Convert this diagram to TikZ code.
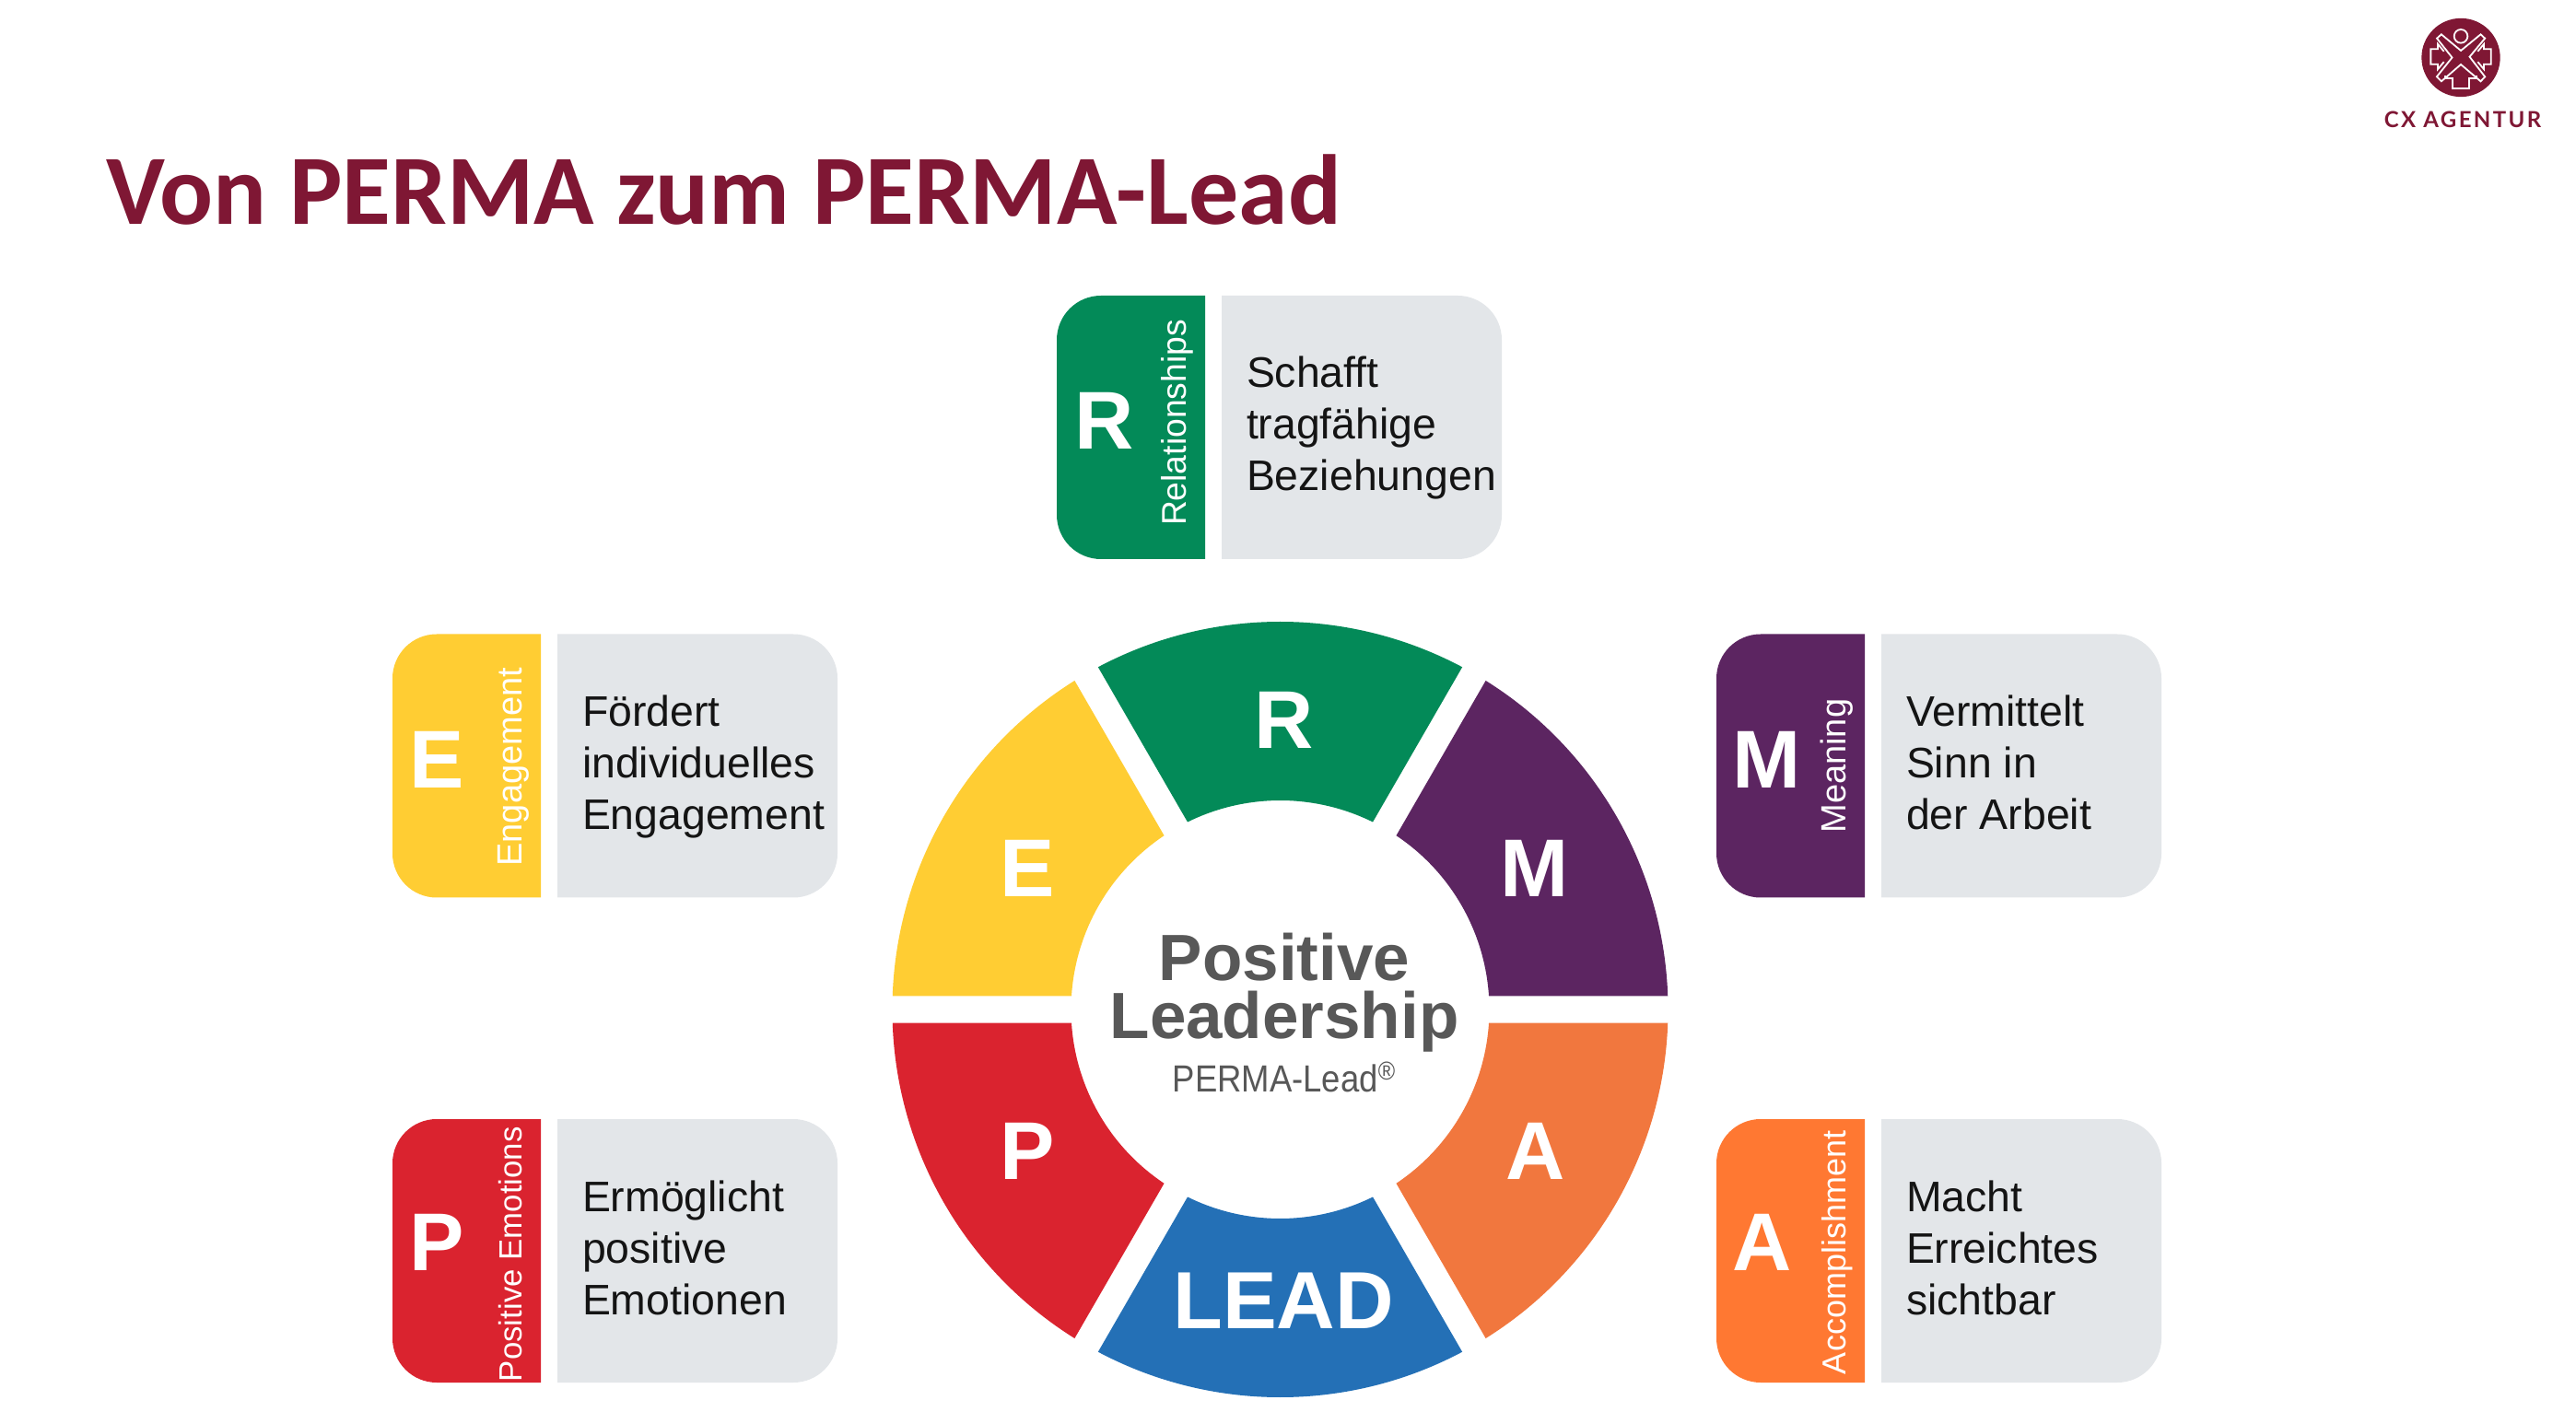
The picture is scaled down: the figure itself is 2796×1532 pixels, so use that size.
\documentclass[tikz,border=0pt]{standalone}
\usepackage{fontspec}
\setmainfont{Liberation Sans}
\newfontfamily\titlefont{Carlito}
\newfontfamily\logofont[LetterSpace=10]{Lato}
\definecolor{cxred}{HTML}{7F1734}
\definecolor{cgreen}{HTML}{038A58}
\definecolor{cred}{HTML}{DA232F}
\definecolor{cyellow}{HTML}{FFCD33}
\definecolor{cpurple}{HTML}{5C2561}
\definecolor{corange}{HTML}{F1773E}
\definecolor{corangecard}{HTML}{FF7832}
\definecolor{cblue}{HTML}{2470B6}
\definecolor{cgrey}{HTML}{E3E6E9}
\definecolor{ctext}{HTML}{141414}
\definecolor{ccentre}{HTML}{585858}
\newcommand{\fs}[1]{\fontsize{#1}{#1}\selectfont}
\tikzset{
  x=1pt,y=1pt,
  txt/.style={inner sep=0pt,outer sep=0pt},
  letter/.style={txt,anchor=base,text=white,font=\fs{89}\bfseries},
  bodytext/.style={txt,anchor=north west,align=left,text=ctext,font=\fontsize{46.4}{56}\selectfont},
  vert/.style={txt,anchor=base west,rotate=90,text=white},
  logoline/.style={draw=white,line width=1.8pt,line join=miter}
}
% #1 name, #2 x, #3 top y, #4 colour, #5 letter, #6 letter x, #7 letter baseline, #8 vertical text, #9 size/start
\newcommand{\permacard}[9]{%
  \begin{scope}[shift={(#2,1532-#3)}]
    \fill[#4] (161,0) -- (48,0) arc[start angle=90,end angle=180,radius=48] -- (0,-238)
      arc[start angle=180,end angle=270,radius=48] -- (161,-286) -- cycle;
    \fill[cgrey] (179,0) -- (435,0) arc[start angle=90,end angle=0,radius=48] -- (483,-238)
      arc[start angle=0,end angle=-90,radius=48] -- (179,-286) -- cycle;
    \node[letter] (#1let) at (#6,-#7) {#5};
    \permavert{#1}{#8}#9
  \end{scope}}
\newcommand{\permavert}[4]{\node[vert,font=\fs{#3}] (#1vert) at (140,-#4) {#2};}
\newcommand{\permabody}[4]{\node[bodytext] (#1body) at (#2+206,{1532-#3-100-(-40)}) {\rule{0pt}{40pt}#4};}
\begin{document}
\begin{tikzpicture}
\useasboundingbox (0,0) rectangle (2796,1532);
\fill[white] (0,0) rectangle (2796,1532);
% title
\node[txt,anchor=base west,text=cxred,font=\titlefont\fs{108}\bfseries] (title) at (115,1532-244) {Von PERMA zum PERMA-Lead};
% logo
\begin{scope}[shift={(2671,1532-62.5)},x=0.3333pt,y=0.3333pt]
  \fill[cxred] (0,0) circle[radius=128];
  \draw[logoline] (0,69.5) circle[radius=22];
  \draw[logoline] (-78,62.5) -- (-63.5,75.5) -- (0,22.5) -- (64.5,75.5) -- (78.5,62.5) -- (28.5,2.5)
    -- (78.5,-62.5) -- (64.5,-77.5) -- (0,-22.5) -- (-63.5,-77.5) -- (-78.5,-62.5) -- (-28.5,0) -- cycle;
  \draw[logoline] (-55,20) -- (-75,44) -- (-75,28) -- (-98,28) -- (-98,-22) -- (-75,-22) -- (-75,-38) -- (-55,-14);
  \draw[logoline] (55,20) -- (75,44) -- (75,28) -- (98,28) -- (98,-22) -- (75,-22) -- (75,-38) -- (55,-14);
  \draw[logoline] (-50,-60) -- (-50,-68) -- (-28,-68) -- (-28,-100) -- (28,-100) -- (28,-68) -- (50,-68) -- (50,-60);
\end{scope}
\node[txt,anchor=base,text=cxred,font=\logofont\fs{24}\bfseries] (logotext) at (2673,1532-139) {CX AGENTUR};
% cards
\permacard{r}{1147}{321}{cgreen}{R}{52}{167}{Relationships}{{37.3}{250}}
\permabody{r}{1147}{321}{Schafft\\tragfähige\\Beziehungen}
\permacard{e}{426}{688.5}{cyellow}{E}{48}{167}{Engagement}{{38}{252}}
\permabody{e}{426}{688.5}{Fördert\\individuelles\\Engagement}
\permacard{m}{1863}{688.5}{cpurple}{M}{55}{167}{Meaning}{{38}{216}}
\permabody{m}{1863}{688.5}{Vermittelt\\Sinn in\\der Arbeit}
\permacard{p}{426}{1215}{cred}{P}{48}{164.5}{Positive Emotions}{{34.8}{285}}
\permabody{p}{426}{1215}{Ermöglicht\\positive\\Emotionen}
\permacard{a}{1863}{1215}{corangecard}{A}{50}{164.5}{Accomplishment}{{36}{277}}
\permabody{a}{1863}{1215}{Macht\\Erreichtes\\sichtbar}
% wheel
\begin{scope}[shift={(1389.5,1532-1096)}]
  \foreach \a/\c in {0/cpurple,60/cgreen,120/cyellow,180/cred,240/cblue,300/corange}{
    \fill[\c] ({\a+2}:421) arc[start angle=\a+2,end angle=\a+58,radius=421]
      -- ({\a+56.29}:227) arc[start angle=\a+56.29,end angle=\a+3.71,radius=227] -- cycle;
  }
\end{scope}
\node[letter] (wr) at (1394,1532-813) {R};
\node[letter] (we) at (1115,1532-974) {E};
\node[letter] (wm) at (1666,1532-974) {M};
\node[letter] (wp) at (1115.5,1532-1280) {P};
\node[letter] (wa) at (1667,1532-1280) {A};
\node[letter,font=\fs{88}\bfseries] (wl) at (1393,1532-1442) {LEAD};
\node[txt,anchor=base,text=ccentre,font=\fs{71}\bfseries] (c1) at (1394,1532-1065) {Positive};
\node[txt,anchor=base,text=ccentre,font=\fs{71}\bfseries] (c2) at (1394,1532-1127) {Leadership};
\node[txt,anchor=base,text=ccentre,font=\fs{41},xscale=0.89] (c3) at (1393.5,1532-1185) {PERMA-Lead\raisebox{13pt}{\fs{28}®}};
\end{tikzpicture}
\end{document}
